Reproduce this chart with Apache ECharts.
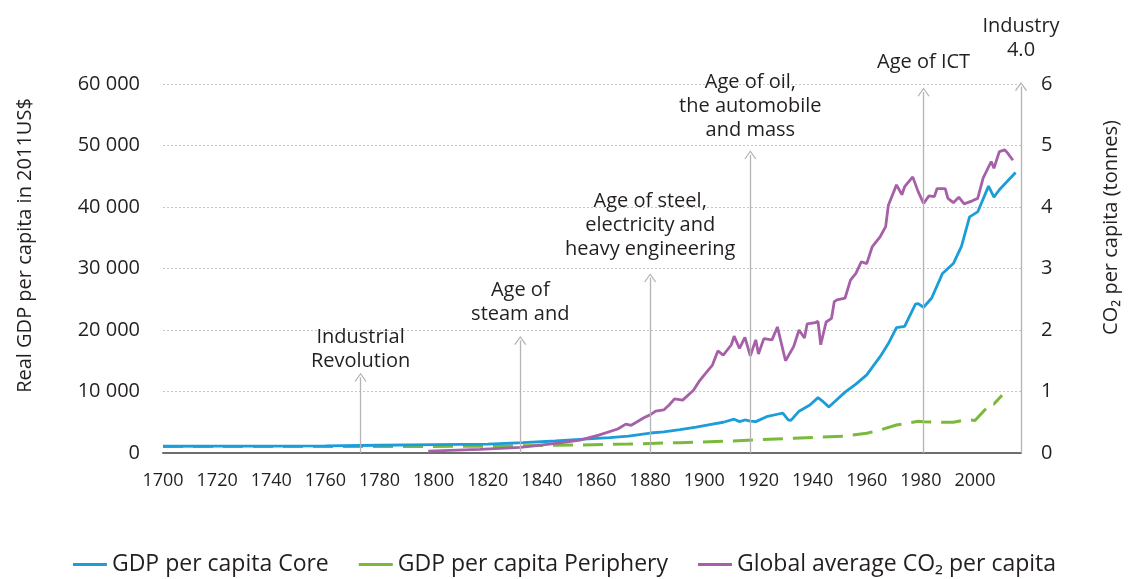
<!DOCTYPE html>
<html>
<head>
<meta charset="utf-8">
<script src="https://cdn.jsdelivr.net/npm/echarts@6/dist/echarts.min.js"></script>
<style>
  html, body { margin: 0; background: #fff; }
  #chart { width: 1129px; height: 579px; }
</style>
</head>
<body>
<div id="chart"></div>
<script>
// GDP per capita, core countries (2011 US$)
var coreYears = [1700, 1720, 1740, 1760, 1780, 1800, 1820, 1833, 1845, 1854, 1865, 1872, 1880, 1885, 1891, 1897,
  1903, 1907, 1911, 1913, 1915, 1917, 1919, 1923, 1927, 1929, 1931, 1932, 1935, 1939, 1942, 1944, 1946, 1947,
  1952, 1956, 1960, 1965, 1968, 1971, 1974, 1978, 1979, 1981, 1984, 1988, 1992, 1995, 1998, 2001, 2005, 2007,
  2009, 2015]
var coreValues = [1100, 1110, 1130, 1170, 1260, 1350, 1450, 1700, 1950, 2230, 2500, 2760, 3250, 3450, 3800, 4200,
  4700, 5000, 5500, 5100, 5370, 5200, 5100, 5900, 6300, 6500, 5400, 5300, 6800, 7800, 9000, 8300, 7500, 7900,
  9900, 11200, 12700, 15700, 17800, 20400, 20600, 24200, 24300, 23700, 25200, 29200, 30800, 33600, 38400, 39200,
  43400, 41600, 42800, 45600]

// GDP per capita, periphery countries
var periYears = [1700, 1780, 1820, 1833, 1854, 1872, 1891, 1910, 1933, 1942, 1952, 1960, 1965, 1971, 1979, 1981,
  1987, 1992, 1995, 1998, 2000, 2003, 2006, 2007, 2010]
var periValues = [1050, 1050, 1100, 1190, 1300, 1460, 1680, 1950, 2400, 2550, 2750, 3200, 3750, 4550, 5150, 5100,
  5000, 5000, 5250, 5400, 5300, 6700, 8100, 7950, 9400]

// global average CO2 per capita (tonnes)
var co2Years = [1798, 1817, 1832, 1846, 1854, 1861, 1868, 1871, 1873, 1878, 1880, 1882, 1885, 1887, 1889, 1892,
  1896, 1898, 1900, 1903, 1905, 1907, 1910, 1911, 1913, 1915, 1917, 1919, 1920, 1922, 1925, 1927, 1930, 1933,
  1935, 1937, 1938, 1941, 1942, 1943, 1945, 1947, 1948, 1949, 1952, 1954, 1956, 1958, 1960, 1962, 1965, 1967,
  1968, 1971, 1973, 1974, 1977, 1979, 1981, 1983, 1985, 1986, 1989, 1990, 1992, 1994, 1996, 1999, 2001, 2003,
  2006, 2007, 2009, 2011, 2012, 2014]
var co2Values = [0.03, 0.06, 0.09, 0.16, 0.21, 0.29, 0.39, 0.47, 0.45, 0.58, 0.62, 0.68, 0.70, 0.78, 0.88, 0.86,
  1.02, 1.16, 1.27, 1.43, 1.66, 1.59, 1.76, 1.90, 1.70, 1.88, 1.58, 1.84, 1.61, 1.86, 1.84, 2.05, 1.50, 1.73,
  2.00, 1.87, 2.10, 2.12, 2.14, 1.76, 2.13, 2.19, 2.46, 2.49, 2.52, 2.81, 2.92, 3.11, 3.08, 3.35, 3.52, 3.68,
  4.03, 4.36, 4.20, 4.33, 4.49, 4.25, 4.06, 4.18, 4.17, 4.30, 4.30, 4.14, 4.07, 4.16, 4.05, 4.10, 4.14, 4.47,
  4.74, 4.63, 4.90, 4.93, 4.88, 4.76]

// technological revolutions (arrows)
var waveYears = [1773, 1832, 1880, 1917, 1981, 2017]
var waveTips = [12300, 18300, 28500, 48500, 58700, 59600]
var waveNames = ['Industrial\nRevolution', 'Age of\nsteam and', 'Age of steel,\nelectricity and\nheavy engineering',
  'Age of oil,\nthe automobile\nand mass', 'Age of ICT', 'Industry\n4.0']
var waveGaps = [4, 14, 16, 12, 18, 24]

var xTicks = { min: 1700, max: 2017, interval: 20 }
var gdpTicks = { min: 0, max: 60000, interval: 10000 }
var co2Ticks = { min: 0, max: 6, interval: 1 }

function pairs (xs, ys) {
  return xs.map(function (x, i) { return [x, ys[i]] })
}

var ink = '#231f20'
var font = 'Open Sans'
var chevron = 'path://M0,10 L6,0 L12,10 L10.9,10.7 L6,2.3 L1.1,10.7 Z'

var chart = echarts.init(document.getElementById('chart'))
chart.setOption({
  animation: false,
  textStyle: { fontFamily: font, color: ink },
  grid: { left: 163, right: 107, top: 84, bottom: 126 },
  legend: {
    top: 548,
    left: 'center',
    icon: 'rect',
    itemWidth: 34,
    itemHeight: 3,
    itemGap: 30,
    textStyle: { fontSize: 23, color: ink, fontFamily: font },
    data: ['GDP per capita Core', 'GDP per capita Periphery', 'Global average CO₂ per capita']
  },
  xAxis: {
    type: 'value',
    min: xTicks.min,
    max: xTicks.max,
    interval: xTicks.interval,
    axisLine: { lineStyle: { color: '#6e6e6e', width: 2 } },
    axisTick: { show: false },
    splitLine: { show: false },
    axisLabel: {
      fontSize: 18,
      color: ink,
      margin: 19,
      showMaxLabel: false,
      formatter: function (v) { return String(v) }
    }
  },
  yAxis: [
    {
      type: 'value',
      min: gdpTicks.min,
      max: gdpTicks.max,
      interval: gdpTicks.interval,
      name: 'Real GDP per capita in 2011US$',
      nameLocation: 'middle',
      nameGap: 128,
      nameTextStyle: { fontSize: 20, color: ink, padding: [0, 0, 0, 46] },
      axisLine: { show: false },
      axisTick: { show: false },
      axisLabel: {
        fontSize: 20,
        color: ink,
        margin: 23,
        formatter: function (v) { return String(v).replace(/\B(?=(\d{3})+(?!\d))/g, ' ') }
      },
      splitLine: { lineStyle: { color: '#c6c6c6', width: 1, type: [2, 2] } }
    },
    {
      type: 'value',
      min: co2Ticks.min,
      max: co2Ticks.max,
      interval: co2Ticks.interval,
      name: 'CO₂ per capita (tonnes)',
      nameLocation: 'middle',
      nameGap: 80,
      nameTextStyle: { fontSize: 20, color: ink, padding: [0, 0, 0, 82] },
      axisLine: { show: false },
      axisTick: { show: false },
      axisLabel: { fontSize: 20, color: ink, margin: 20 },
      splitLine: { show: false }
    }
  ],
  series: [
    {
      name: 'GDP per capita Core',
      type: 'line',
      yAxisIndex: 0,
      showSymbol: false,
      symbol: 'none',
      z: 3,
      color: '#1b9dd9',
      lineStyle: { width: 2.8 },
      data: pairs(coreYears, coreValues),
      markLine: {
        silent: true,
        symbol: ['none', chevron],
        symbolSize: [12, 9],
        lineStyle: { color: '#b4b4b4', width: 1.3, type: 'solid' },
        label: {
          position: 'end',
          formatter: '{b}',
          fontSize: 20,
          lineHeight: 24,
          color: ink,
          fontFamily: font,
          align: 'center'
        },
        data: waveYears.map(function (yr, i) {
          return [
            { name: waveNames[i], coord: [yr, 0], label: { distance: waveGaps[i] } },
            { coord: [yr, waveTips[i]] }
          ]
        })
      }
    },
    {
      name: 'GDP per capita Periphery',
      type: 'line',
      yAxisIndex: 0,
      showSymbol: false,
      symbol: 'none',
      z: 2,
      color: '#7ab93a',
      lineStyle: { width: 3, type: [20, 10] },
      data: pairs(periYears, periValues)
    },
    {
      name: 'Global average CO₂ per capita',
      type: 'line',
      yAxisIndex: 1,
      showSymbol: false,
      symbol: 'none',
      z: 4,
      color: '#a660a8',
      lineStyle: { width: 2.8 },
      data: pairs(co2Years, co2Values)
    }
  ]
})
</script>
</body>
</html>
